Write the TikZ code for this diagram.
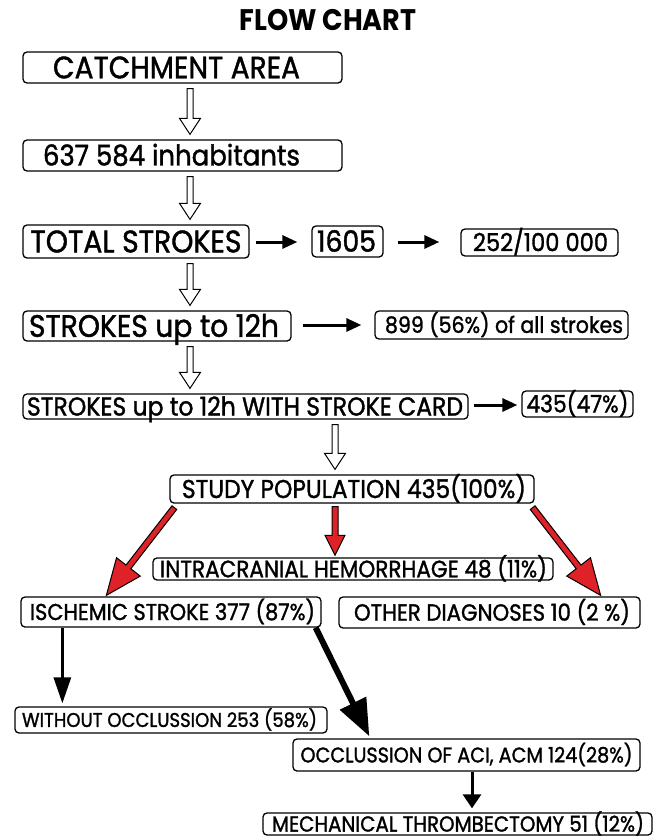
\documentclass[tikz,border=0pt]{standalone}
\usepackage{fontspec}
\setmainfont{Poppins}
\newfontfamily\boxfont{Poppins}[FakeBold=1.4]
\usetikzlibrary{calc,arrows.meta}
\newcommand\tx[3]{\hspace*{#1pt}\scalebox{1}[1.1]{\resizebox{#2pt}{!}{\raisebox{-0.5\fontcharht\font`H}[0pt][0pt]{#3}}}\hspace*{-#1pt}}
\newcommand\hollowarrow[3]{%
  \draw[hollow] let \p1=(#1.south), \p2=(#2.north) in
    (#3pt-3pt,\y1-5pt) -- (#3pt-3pt,\y2+21pt) -- (#3pt-10.5pt,\y2+21pt) -- (#3pt,\y2+5pt)
    -- (#3pt+10.5pt,\y2+21pt) -- (#3pt+3pt,\y2+21pt) -- (#3pt+3pt,\y1-5pt) -- cycle;}
\newcommand\blockarrow[5]{%
  \coordinate (bah) at ($(#2)!#5!(#1)$);
  \filldraw[redarrow] ($(#1)!#3!90:(#2)$) -- ($(bah)!#3!90:(#2)$) -- ($(bah)!#4!90:(#2)$)
    -- (#2) -- ($(bah)!#4!-90:(#2)$) -- ($(bah)!#3!-90:(#2)$) -- ($(#1)!#3!-90:(#2)$) -- cycle;}
\definecolor{arrowred}{RGB}{222,34,40}
\begin{document}
\begin{tikzpicture}[x=1pt,y=-1pt,
  box/.style={draw=black, line width=1.3pt, rounded corners=4pt, fill=white, inner sep=0pt, anchor=center, font=\boxfont},
  hollow/.style={draw=black, line width=1pt, fill=white, line join=miter},
  redarrow/.style={draw=black, fill=arrowred, line width=1pt, line join=miter},
  blk/.style={-{Triangle[length=26pt,width=17pt]}, line width=3pt},
  blkb/.style={-{Triangle[length=14pt,width=18pt]}, line width=3pt},
  blkthick/.style={-{Triangle[length=37pt,width=28pt]}, line width=6pt},
  harrow/.style={-{Triangle[length=15pt,width=13pt]}, line width=3pt}]
\fill[white] (0,0) rectangle (654,838);
\useasboundingbox (0,0) rectangle (654,838);

\node[font=\bfseries] (title) at (328,20) {\tx{0}{177}{FLOW CHART}};

\node[box, minimum width=319pt, minimum height=31pt] (catch) at (182.5,67.5) {\tx{-6}{247}{CATCHMENT AREA}};
\node[box, minimum width=319pt, minimum height=31pt] (inhab) at (182.5,155.5) {\tx{-11}{257}{637 584 inhabitants}};
\node[box, minimum width=226pt, minimum height=33pt] (total) at (136,241.5) {\tx{0}{211}{TOTAL STROKES}};
\node[box, minimum width=71pt, minimum height=31pt] (n1605) at (347.5,241.5) {\tx{-1}{59}{1605}};
\node[box, minimum width=157pt, minimum height=27pt] (rate) at (539.5,242.5) {\tx{1}{135}{252/100 000}};
\node[box, minimum width=268pt, minimum height=30pt] (up12) at (157,326) {\tx{-3}{250}{STROKES up to 12h}};
\node[box, minimum width=253pt, minimum height=28pt] (n899) at (501.5,325) {\tx{2.5}{238}{899 (56\%) of all strokes}};
\node[box, minimum width=445pt, minimum height=25pt] (card) at (245.5,406.5) {\tx{-0.5}{436}{STROKES up to 12h WITH STROKE CARD}};
\node[box, minimum width=111pt, minimum height=26pt] (n435) at (577.5,404) {\tx{0}{102}{435(47\%)}};
\node[box, minimum width=364pt, minimum height=28pt] (study) at (352,489) {\tx{2}{344}{STUDY POPULATION 435(100\%)}};
\node[box, minimum width=400pt, minimum height=22pt] (ich) at (353,569) {\tx{0.5}{387}{INTRACRANIAL HEMORRHAGE 48 (11\%)}};
\node[box, minimum width=300pt, minimum height=30pt] (isch) at (171,612) {\tx{1.5}{285}{ISCHEMIC STROKE 377 (87\%)}};
\node[box, minimum width=301pt, minimum height=31pt] (other) at (489.5,612.5) {\tx{2.5}{276}{OTHER DIAGNOSES 10 (2 \%)}};
\node[box, minimum width=312pt, minimum height=26pt] (without) at (171,720) {\tx{-1.5}{295}{WITHOUT OCCLUSSION 253 (58\%)}};
\node[box, minimum width=347pt, minimum height=32pt] (occl) at (466.5,755) {\tx{0}{332}{OCCLUSSION OF ACI, ACM 124(28\%)}};
\node[box, minimum width=389pt, minimum height=22pt] (mech) at (457.5,824) {\tx{0.5}{372}{MECHANICAL THROMBECTOMY 51 (12\%)}};

% hollow arrows
\hollowarrow{catch}{inhab}{190}
\hollowarrow{inhab}{total}{190}
\hollowarrow{total}{up12}{190}
\hollowarrow{up12}{card}{190}
\hollowarrow{card}{study}{335}

% horizontal arrows
\draw[harrow] ($(total.east)+(6,0.5)$) -- ($(n1605.west)+(-14,0.5)$);
\draw[harrow] ($(n1605.east)+(14,0.5)$) -- ($(rate.west)+(-21,-0.5)$);
\draw[harrow] ($(up12.east)+(11,-1)$) -- ($(n899.west)+(-13,0)$);
\draw[harrow] ($(card.east)+(5,-1.5)$) -- ($(n435.west)+(-4,1)$);

% red arrows
\coordinate (r1a) at ($(study.south west)+(5,4)$);
\coordinate (r1b) at ($(isch.north west)+(86,-1)$);
\coordinate (r2a) at ($(study.south)+(-17,3)$);
\coordinate (r2b) at ($(ich.north)+(-18,-2)$);
\coordinate (r3a) at ($(study.south east)+(-2,4)$);
\coordinate (r3b) at ($(other.north east)+(-40,-1)$);
\blockarrow{r1a}{r1b}{3pt}{15pt}{36pt}
\blockarrow{r2a}{r2b}{3pt}{10pt}{20pt}
\blockarrow{r3a}{r3b}{3pt}{15pt}{36pt}

% black arrows
\draw[blk] ($(isch.south west)+(42,0)$) -- ($(without.north west)+(48,-3)$);
\draw[blkthick] ($(isch.south east)+(-6,0)$) -- ($(occl.north west)+(77,-2)$);
\draw[blkb] ($(occl.south)+(5.5,0)$) -- ($(mech.north)+(14.5,-4)$);
\end{tikzpicture}
\end{document}
